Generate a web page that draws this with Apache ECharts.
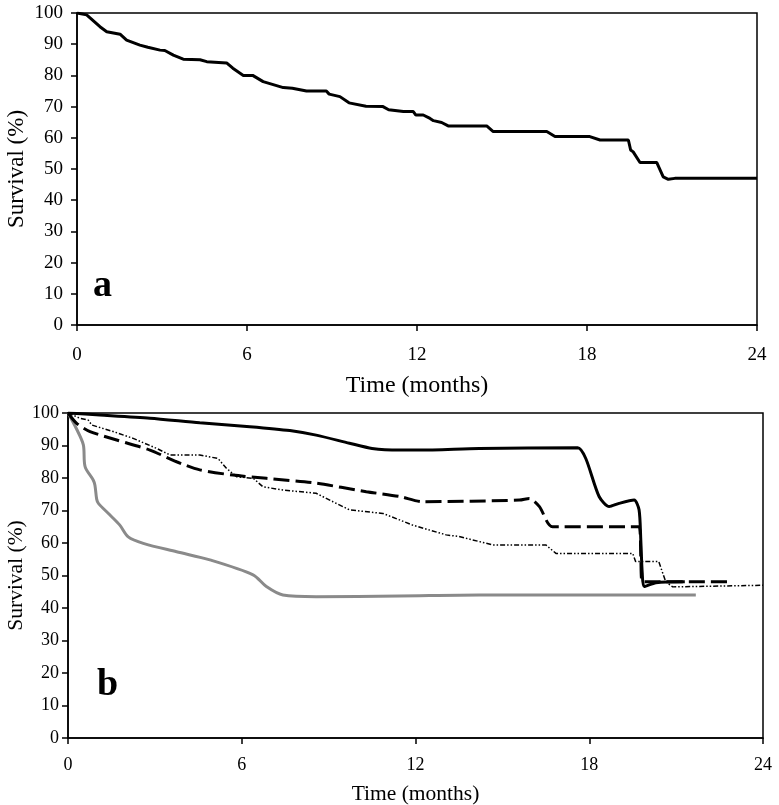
<!DOCTYPE html>
<html>
<head>
<meta charset="utf-8">
<script src="https://cdn.jsdelivr.net/npm/echarts@6/dist/echarts.min.js"></script>
<style>
html,body{margin:0;padding:0;background:#fff;}
#chart{width:779px;height:805px;}
</style>
</head>
<body>
<div id="chart"></div>
<script>
// ---- Data ----
var xTicks = [0, 6, 12, 18, 24];
var yTicks = [0, 10, 20, 30, 40, 50, 60, 70, 80, 90, 100];

// Panel a: overall survival
var aTime = [0,0.34,0.81,1.05,1.52,1.75,2.22,2.5,2.93,3.1,3.4,3.75,4.34,4.58,5.28,5.5,5.87,6.2,6.57,7.28,7.6,8.1,8.8,8.9,9.28,9.6,10.2,10.8,11.0,11.52,11.87,11.96,12.22,12.46,12.58,12.87,13.1,14.46,14.69,16.58,16.87,18.1,18.46,19.46,19.54,19.63,19.87,20.46,20.69,20.87,21.1,24];
var aSurv = [100,99.4,95.6,94,93.2,91.3,89.7,89,88.1,88,86.5,85.2,85,84.4,84,82.3,80,80,78,76.1,75.9,75,75,74,73.2,71.2,70.1,70,69,68.4,68.4,67.3,67.3,66.2,65.5,64.9,63.8,63.8,62,62,60.4,60.4,59.3,59.3,56.1,55.5,52.1,52.1,47.5,46.7,47,47];

// Panel b: four groups
var bSolidTime = [0,1.1,2.83,4.55,6.28,7.66,8.57,9.72,10.5,11.45,12.14,14.2,17.6,17.88,18.34,18.69,19.03,19.55,19.72,19.78,19.83,19.9,20.3,21.3];
var bSolidSurv = [100,99.4,98.4,97,95.8,94.6,93.2,90.7,89.1,88.6,88.6,89.1,89.3,86,74.3,71.2,72.2,73.2,70.2,60.9,50.7,46.6,47.8,48.1];

var bDashTime = [0,0.3,0.76,1.68,2.83,3.75,4.55,5.7,6.85,8.57,10.3,11.45,12.25,15.59,15.93,16.28,16.73,19.72,19.78,19.83,22.77];
var bDashSurv = [100,96.8,94.3,91.7,88.6,85,82.5,80.9,79.9,78.4,75.8,74.3,72.7,73.2,73.7,71.2,65,65,55.8,48.1,48.1];

var bDotTime = [0,0.41,0.7,0.82,1.56,2.25,3.06,3.52,4.55,5.18,5.47,5.82,6.4,6.73,7.42,8.57,9.15,9.72,10.87,11.45,11.9,13.06,13.5,14.67,16.5,16.85,19.5,19.6,20.4,20.64,20.88,24];
var bDotSurv = [100,98.4,97.8,96.3,94.3,92.2,89.1,87.1,87.1,86,83,80.4,79.9,77.3,76.3,75.3,72.7,70.2,69.1,67.1,65.5,62.5,62,59.4,59.4,56.8,56.8,54.3,54.3,48.1,46.5,47];

var bGrayTime = [0,0.3,0.53,0.59,0.87,0.93,0.99,1.05,1.45,1.79,2.08,2.6,3.75,4.9,6.39,6.85,7.42,8.57,11.45,14.2,21.68];
var bGraySurv = [100,95,90.2,83.5,79.4,77.8,73.5,72.2,68.6,65.5,61.9,59.9,57.3,54.8,50.2,46.6,44,43.5,43.7,44,44];

function pairs(t, v) { return t.map(function (x, i) { return [x, v[i]]; }); }

var FONT = "'Liberation Serif', 'Times New Roman', serif";

function xAxisCfg(gridIndex, labelSize, nameSize, nameGap, margin) {
  return {
    type: 'value', gridIndex: gridIndex,
    min: xTicks[0], max: xTicks[xTicks.length - 1], interval: xTicks[1] - xTicks[0],
    name: 'Time (months)', nameLocation: 'middle', nameGap: nameGap,
    nameTextStyle: { fontFamily: FONT, fontSize: nameSize, color: '#000' },
    axisLine: { show: true, lineStyle: { color: '#000', width: 1.5 } },
    axisTick: { show: true, inside: false, length: 6, lineStyle: { color: '#000', width: 1.5 } },
    axisLabel: { fontFamily: FONT, fontSize: labelSize, color: '#000', margin: margin },
    splitLine: { show: false }
  };
}
function yAxisCfg(gridIndex, labelSize, nameSize, nameGap, margin) {
  return {
    type: 'value', gridIndex: gridIndex,
    min: yTicks[0], max: yTicks[yTicks.length - 1], interval: yTicks[1] - yTicks[0],
    name: 'Survival (%)', nameLocation: 'middle', nameGap: nameGap, nameMoveOverlap: false,
    nameTextStyle: { fontFamily: FONT, fontSize: nameSize, color: '#000' },
    axisLine: { show: true, lineStyle: { color: '#000', width: 1.5 } },
    axisTick: { show: true, inside: false, length: 6, lineStyle: { color: '#000', width: 1.5 } },
    axisLabel: { fontFamily: FONT, fontSize: labelSize, color: '#000', margin: margin },
    splitLine: { show: false }
  };
}

var chart = echarts.init(document.getElementById('chart'), null, { renderer: 'canvas' });
chart.setOption({
  animation: false,
  backgroundColor: '#fff',
  grid: [
    { left: 77, top: 13, width: 680, height: 312, show: true, borderColor: '#000', borderWidth: 1.5,
      backgroundColor: 'transparent', containLabel: false, outerBoundsMode: 'none' },
    { left: 68, top: 413, width: 695, height: 325, show: true, borderColor: '#000', borderWidth: 1.5,
      backgroundColor: 'transparent', containLabel: false, outerBoundsMode: 'none' }
  ],
  xAxis: [ xAxisCfg(0, 19, 24, 49, 21), xAxisCfg(1, 18, 21.5, 45, 18) ],
  yAxis: [ yAxisCfg(0, 19, 23, 49, 14), yAxisCfg(1, 18, 21.5, 41, 9) ],
  graphic: [
    { type: 'text', left: 93, top: 267, style: { text: 'a', fontFamily: FONT, fontSize: 38, fontWeight: 'bold', fill: '#000' } },
    { type: 'text', left: 97, top: 666, style: { text: 'b', fontFamily: FONT, fontSize: 38, fontWeight: 'bold', fill: '#000' } }
  ],
  series: [
    { type: 'line', xAxisIndex: 0, yAxisIndex: 0, data: pairs(aTime, aSurv), showSymbol: false,
      lineStyle: { color: '#000', width: 3 }, z: 5 },
    { type: 'line', xAxisIndex: 1, yAxisIndex: 1, data: pairs(bGrayTime, bGraySurv), showSymbol: false, smooth: 0.3,
      lineStyle: { color: '#8a8a8a', width: 3 }, z: 2 },
    { type: 'line', xAxisIndex: 1, yAxisIndex: 1, data: pairs(bDotTime, bDotSurv), showSymbol: false,
      lineStyle: { color: '#000', width: 1.5, type: [5, 2, 1.5, 2, 1.5, 2] }, z: 3 },
    { type: 'line', xAxisIndex: 1, yAxisIndex: 1, data: pairs(bDashTime, bDashSurv), showSymbol: false, smooth: 0.25,
      lineStyle: { color: '#000', width: 3, type: [16, 6] }, z: 4 },
    { type: 'line', xAxisIndex: 1, yAxisIndex: 1, data: pairs(bSolidTime, bSolidSurv), showSymbol: false, smooth: 0.25,
      lineStyle: { color: '#000', width: 3 }, z: 5 }
  ]
});
</script>
</body>
</html>
